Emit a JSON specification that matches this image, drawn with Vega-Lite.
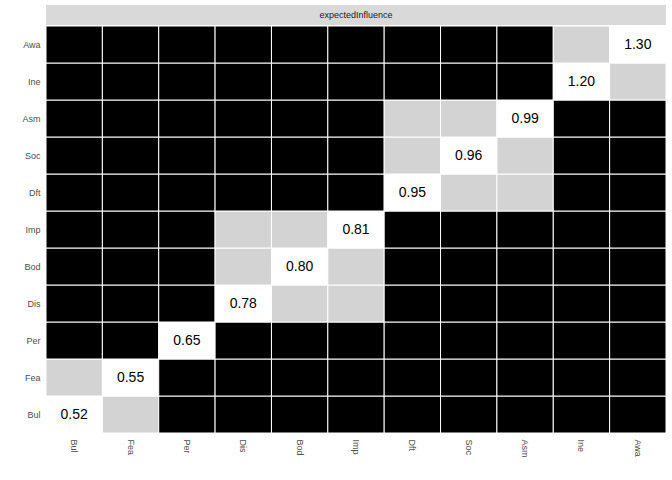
{
  "$schema": "https://vega.github.io/schema/vega-lite/v6.json",
  "padding": {"left": 22, "top": 5, "right": 6, "bottom": 5},
  "spacing": 1,
  "bounds": "flush",
  "config": {
    "view": {"stroke": null},
    "font": "Liberation Sans",
    "axis": {"labelFontSize": 9, "labelColor": "#4D4D4D", "domain": false, "ticks": false, "labelPadding": 6, "title": null, "grid": false}
  },
  "vconcat": [
    {
      "width": 620,
      "height": 20,
      "data": {"values": [{"strip": "expectedInfluence"}]},
      "layer": [
        {
          "mark": {"type": "rect", "color": "#D9D9D9"},
          "encoding": {
            "x": {"field": "strip", "type": "nominal", "axis": null, "scale": {"paddingInner": 0, "paddingOuter": 0}}
          }
        },
        {
          "mark": {"type": "text", "fontSize": 9, "color": "#1A1A1A"},
          "encoding": {
            "x": {"field": "strip", "type": "nominal", "axis": null, "scale": {"paddingInner": 0, "paddingOuter": 0}},
            "text": {"field": "strip"}
          }
        }
      ]
    },
    {
      "width": 620,
      "height": 407,
      "data": {"values": [
        {"y":"Bul","x":"Bul","t":"d","v":0.52},{"y":"Bul","x":"Fea","t":"n"},{"y":"Bul","x":"Per","t":"s"},{"y":"Bul","x":"Dis","t":"s"},{"y":"Bul","x":"Bod","t":"s"},{"y":"Bul","x":"Imp","t":"s"},{"y":"Bul","x":"Dft","t":"s"},{"y":"Bul","x":"Soc","t":"s"},{"y":"Bul","x":"Asm","t":"s"},{"y":"Bul","x":"Ine","t":"s"},{"y":"Bul","x":"Awa","t":"s"},
        {"y":"Fea","x":"Bul","t":"n"},{"y":"Fea","x":"Fea","t":"d","v":0.55},{"y":"Fea","x":"Per","t":"s"},{"y":"Fea","x":"Dis","t":"s"},{"y":"Fea","x":"Bod","t":"s"},{"y":"Fea","x":"Imp","t":"s"},{"y":"Fea","x":"Dft","t":"s"},{"y":"Fea","x":"Soc","t":"s"},{"y":"Fea","x":"Asm","t":"s"},{"y":"Fea","x":"Ine","t":"s"},{"y":"Fea","x":"Awa","t":"s"},
        {"y":"Per","x":"Bul","t":"s"},{"y":"Per","x":"Fea","t":"s"},{"y":"Per","x":"Per","t":"d","v":0.65},{"y":"Per","x":"Dis","t":"s"},{"y":"Per","x":"Bod","t":"s"},{"y":"Per","x":"Imp","t":"s"},{"y":"Per","x":"Dft","t":"s"},{"y":"Per","x":"Soc","t":"s"},{"y":"Per","x":"Asm","t":"s"},{"y":"Per","x":"Ine","t":"s"},{"y":"Per","x":"Awa","t":"s"},
        {"y":"Dis","x":"Bul","t":"s"},{"y":"Dis","x":"Fea","t":"s"},{"y":"Dis","x":"Per","t":"s"},{"y":"Dis","x":"Dis","t":"d","v":0.78},{"y":"Dis","x":"Bod","t":"n"},{"y":"Dis","x":"Imp","t":"n"},{"y":"Dis","x":"Dft","t":"s"},{"y":"Dis","x":"Soc","t":"s"},{"y":"Dis","x":"Asm","t":"s"},{"y":"Dis","x":"Ine","t":"s"},{"y":"Dis","x":"Awa","t":"s"},
        {"y":"Bod","x":"Bul","t":"s"},{"y":"Bod","x":"Fea","t":"s"},{"y":"Bod","x":"Per","t":"s"},{"y":"Bod","x":"Dis","t":"n"},{"y":"Bod","x":"Bod","t":"d","v":0.80},{"y":"Bod","x":"Imp","t":"n"},{"y":"Bod","x":"Dft","t":"s"},{"y":"Bod","x":"Soc","t":"s"},{"y":"Bod","x":"Asm","t":"s"},{"y":"Bod","x":"Ine","t":"s"},{"y":"Bod","x":"Awa","t":"s"},
        {"y":"Imp","x":"Bul","t":"s"},{"y":"Imp","x":"Fea","t":"s"},{"y":"Imp","x":"Per","t":"s"},{"y":"Imp","x":"Dis","t":"n"},{"y":"Imp","x":"Bod","t":"n"},{"y":"Imp","x":"Imp","t":"d","v":0.81},{"y":"Imp","x":"Dft","t":"s"},{"y":"Imp","x":"Soc","t":"s"},{"y":"Imp","x":"Asm","t":"s"},{"y":"Imp","x":"Ine","t":"s"},{"y":"Imp","x":"Awa","t":"s"},
        {"y":"Dft","x":"Bul","t":"s"},{"y":"Dft","x":"Fea","t":"s"},{"y":"Dft","x":"Per","t":"s"},{"y":"Dft","x":"Dis","t":"s"},{"y":"Dft","x":"Bod","t":"s"},{"y":"Dft","x":"Imp","t":"s"},{"y":"Dft","x":"Dft","t":"d","v":0.95},{"y":"Dft","x":"Soc","t":"n"},{"y":"Dft","x":"Asm","t":"n"},{"y":"Dft","x":"Ine","t":"s"},{"y":"Dft","x":"Awa","t":"s"},
        {"y":"Soc","x":"Bul","t":"s"},{"y":"Soc","x":"Fea","t":"s"},{"y":"Soc","x":"Per","t":"s"},{"y":"Soc","x":"Dis","t":"s"},{"y":"Soc","x":"Bod","t":"s"},{"y":"Soc","x":"Imp","t":"s"},{"y":"Soc","x":"Dft","t":"n"},{"y":"Soc","x":"Soc","t":"d","v":0.96},{"y":"Soc","x":"Asm","t":"n"},{"y":"Soc","x":"Ine","t":"s"},{"y":"Soc","x":"Awa","t":"s"},
        {"y":"Asm","x":"Bul","t":"s"},{"y":"Asm","x":"Fea","t":"s"},{"y":"Asm","x":"Per","t":"s"},{"y":"Asm","x":"Dis","t":"s"},{"y":"Asm","x":"Bod","t":"s"},{"y":"Asm","x":"Imp","t":"s"},{"y":"Asm","x":"Dft","t":"n"},{"y":"Asm","x":"Soc","t":"n"},{"y":"Asm","x":"Asm","t":"d","v":0.99},{"y":"Asm","x":"Ine","t":"s"},{"y":"Asm","x":"Awa","t":"s"},
        {"y":"Ine","x":"Bul","t":"s"},{"y":"Ine","x":"Fea","t":"s"},{"y":"Ine","x":"Per","t":"s"},{"y":"Ine","x":"Dis","t":"s"},{"y":"Ine","x":"Bod","t":"s"},{"y":"Ine","x":"Imp","t":"s"},{"y":"Ine","x":"Dft","t":"s"},{"y":"Ine","x":"Soc","t":"s"},{"y":"Ine","x":"Asm","t":"s"},{"y":"Ine","x":"Ine","t":"d","v":1.20},{"y":"Ine","x":"Awa","t":"n"},
        {"y":"Awa","x":"Bul","t":"s"},{"y":"Awa","x":"Fea","t":"s"},{"y":"Awa","x":"Per","t":"s"},{"y":"Awa","x":"Dis","t":"s"},{"y":"Awa","x":"Bod","t":"s"},{"y":"Awa","x":"Imp","t":"s"},{"y":"Awa","x":"Dft","t":"s"},{"y":"Awa","x":"Soc","t":"s"},{"y":"Awa","x":"Asm","t":"s"},{"y":"Awa","x":"Ine","t":"n"},{"y":"Awa","x":"Awa","t":"d","v":1.30}
      ]},
      "encoding": {
        "x": {"field": "x", "type": "nominal", "sort": ["Bul","Fea","Per","Dis","Bod","Imp","Dft","Soc","Asm","Ine","Awa"], "scale": {"paddingInner": 0, "paddingOuter": 0}, "axis": {"labelAngle": 90, "labelAlign": "left", "labelBaseline": "middle"}},
        "y": {"field": "y", "type": "nominal", "sort": ["Awa","Ine","Asm","Soc","Dft","Imp","Bod","Dis","Per","Fea","Bul"], "scale": {"paddingInner": 0, "paddingOuter": 0}}
      },
      "layer": [
        {
          "mark": {"type": "rect", "stroke": "white", "strokeWidth": 1},
          "encoding": {
            "fill": {"field": "t", "type": "nominal", "scale": {"domain": ["d","n","s"], "range": ["#FFFFFF","#D3D3D3","#000000"]}, "legend": null}
          }
        },
        {
          "transform": [{"filter": "datum.t === 'd'"}],
          "mark": {"type": "text", "fontSize": 14, "color": "#000000"},
          "encoding": {"text": {"field": "v", "type": "quantitative", "format": ".2f"}}
        }
      ]
    }
  ]
}
